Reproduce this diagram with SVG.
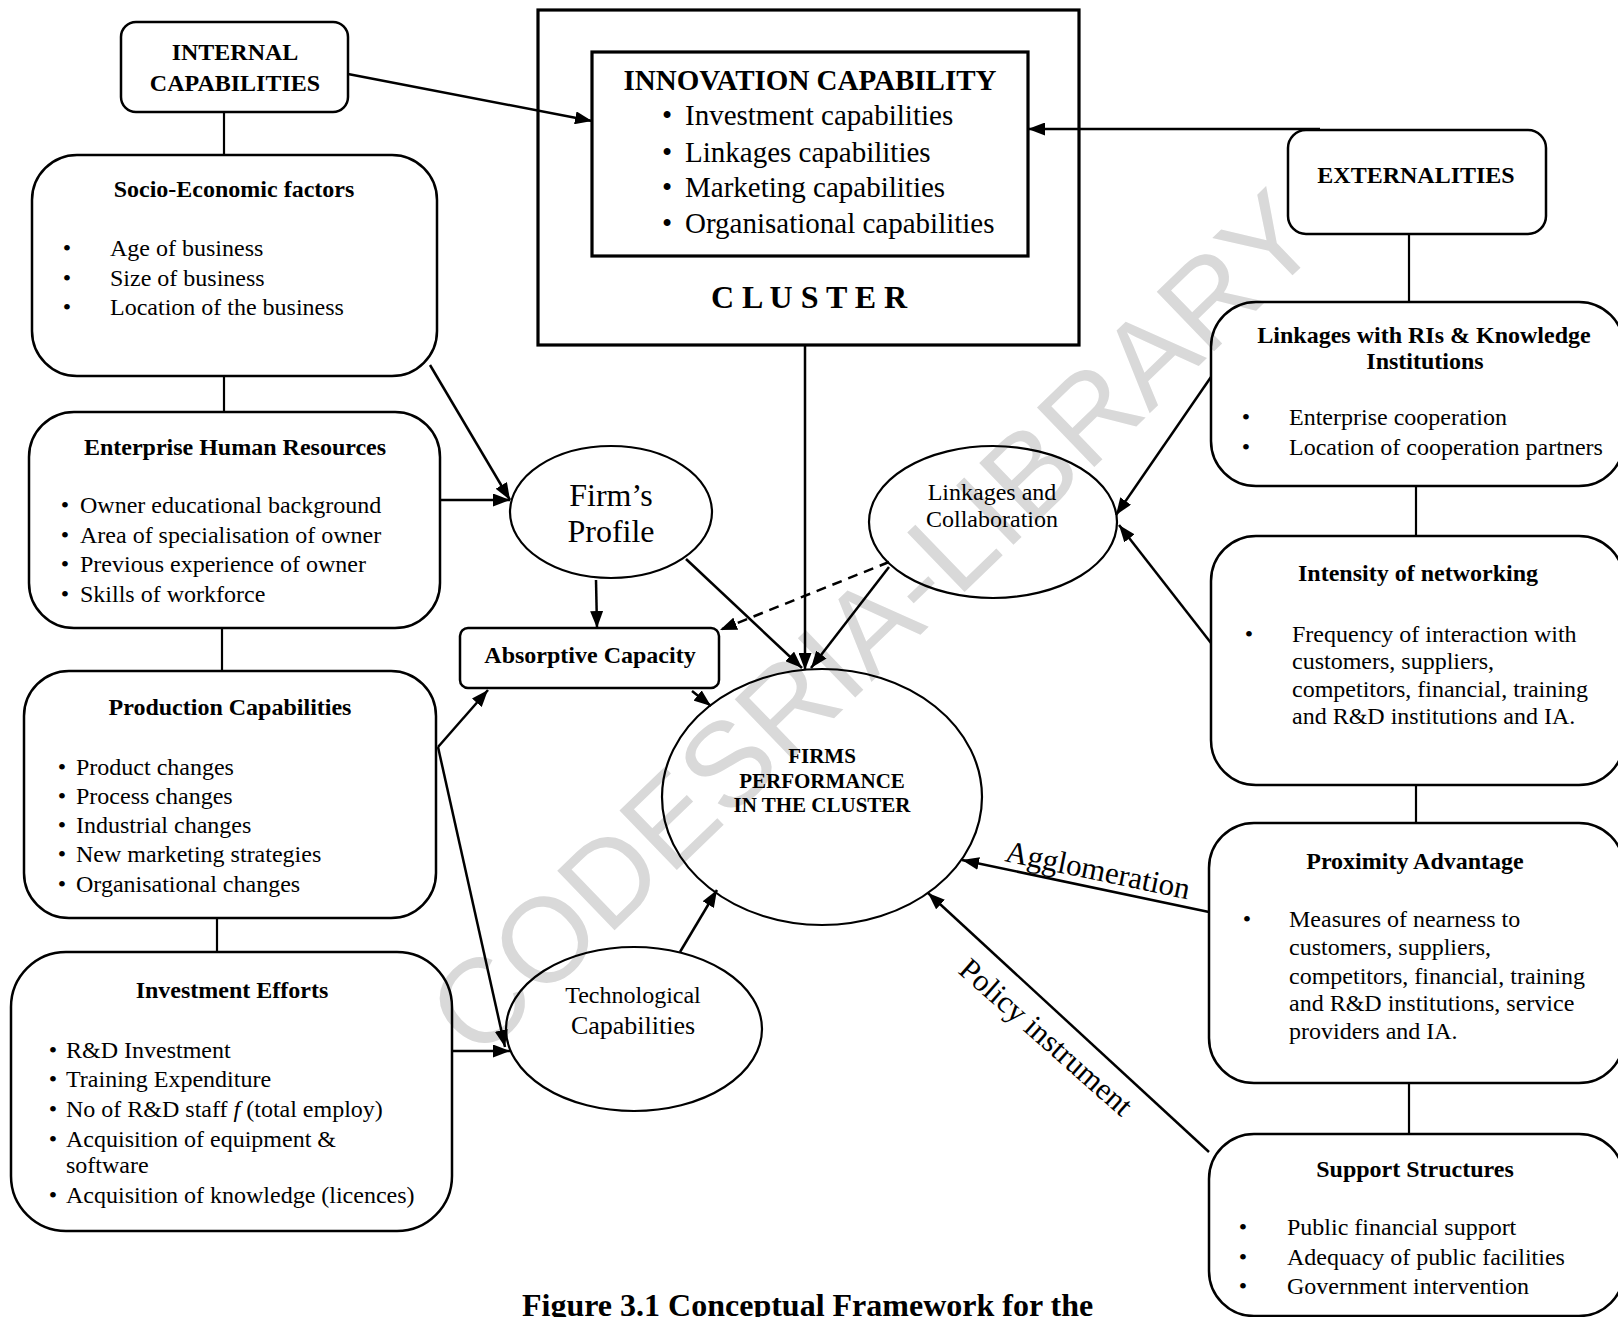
<svg xmlns="http://www.w3.org/2000/svg" width="1618" height="1317" viewBox="0 0 1618 1317">
<defs>
<marker id="ah" markerUnits="userSpaceOnUse" markerWidth="18" markerHeight="13" refX="17" refY="6.5" orient="auto"><path d="M0,0 L17,6.5 L0,13 z" fill="#000"/></marker>
</defs>
<style>
text{font-family:"Liberation Serif","Times New Roman",serif;fill:#000}
.t{font-size:24px;font-weight:bold;text-anchor:middle}
.b{font-size:24px}
.bl{font-size:24px;text-anchor:middle}
.box{fill:none;stroke:#000;stroke-width:2.5}
.thick{fill:none;stroke:#000;stroke-width:3.2}
.ell{fill:none;stroke:#000;stroke-width:2.2}
.ln{fill:none;stroke:#000;stroke-width:2.2}
.ar{fill:none;stroke:#000;stroke-width:2.5;marker-end:url(#ah)}
.wm{font-family:"Liberation Sans",Arial,sans-serif;font-size:120px;fill:#d9d9d9}
</style>
<rect width="1618" height="1317" fill="#fff"/>
<text class="wm" transform="translate(478,1062) rotate(-44)">CODESRIA-LIBRARY</text>

<g id="internal">
<rect class="box" x="121" y="22" width="227" height="90" rx="15"/>
<text class="t" x="235" y="60">INTERNAL</text>
<text class="t" x="235" y="91">CAPABILITIES</text>
</g>

<g id="socio">
<rect class="box" x="32" y="155" width="405" height="221" rx="45"/>
<text class="t" x="234" y="197">Socio-Economic factors</text>
<text class="bl" x="67" y="256">•</text><text class="b" x="110" y="256">Age of business</text>
<text class="bl" x="67" y="286">•</text><text class="b" x="110" y="286">Size of business</text>
<text class="bl" x="67" y="315">•</text><text class="b" x="110" y="315">Location of the business</text>
</g>

<g id="human">
<rect class="box" x="29" y="412" width="411" height="216" rx="45"/>
<text class="t" x="235" y="455">Enterprise Human Resources</text>
<text class="bl" x="65" y="513">•</text><text class="b" x="80" y="513">Owner educational background</text>
<text class="bl" x="65" y="543">•</text><text class="b" x="80" y="543">Area of specialisation of owner</text>
<text class="bl" x="65" y="572">•</text><text class="b" x="80" y="572">Previous experience of owner</text>
<text class="bl" x="65" y="602">•</text><text class="b" x="80" y="602">Skills of workforce</text>
</g>

<g id="production">
<rect class="box" x="24" y="671" width="412" height="247" rx="45"/>
<text class="t" x="230" y="715">Production Capabilities</text>
<text class="bl" x="62" y="775">•</text><text class="b" x="76" y="775">Product changes</text>
<text class="bl" x="62" y="804">•</text><text class="b" x="76" y="804">Process changes</text>
<text class="bl" x="62" y="833">•</text><text class="b" x="76" y="833">Industrial changes</text>
<text class="bl" x="62" y="862">•</text><text class="b" x="76" y="862">New marketing strategies</text>
<text class="bl" x="62" y="892">•</text><text class="b" x="76" y="892">Organisational changes</text>
</g>

<g id="investment">
<rect class="box" x="11" y="952" width="441" height="279" rx="55"/>
<text class="t" x="232" y="998">Investment Efforts</text>
<text class="bl" x="53" y="1058">•</text><text class="b" x="66" y="1058">R&amp;D Investment</text>
<text class="bl" x="53" y="1087">•</text><text class="b" x="66" y="1087">Training Expenditure</text>
<text class="bl" x="53" y="1117">•</text><text class="b" x="66" y="1117">No of R&amp;D staff <tspan font-style="italic">f</tspan> (total employ)</text>
<text class="bl" x="53" y="1147">•</text><text class="b" x="66" y="1147">Acquisition of equipment &amp;</text>
<text class="b" x="66" y="1173">software</text>
<text class="bl" x="53" y="1203">•</text><text class="b" x="66" y="1203">Acquisition of knowledge (licences)</text>
</g>

<g id="cluster">
<rect class="thick" x="538" y="10" width="541" height="335"/>
<text x="809" y="308" font-size="32" font-weight="bold" text-anchor="middle">C L U S T E R</text>
</g>

<g id="innovation">
<rect class="thick" x="592" y="52" width="436" height="204"/>
<text x="810" y="90" font-size="29" font-weight="bold" text-anchor="middle">INNOVATION CAPABILITY</text>
<text x="667" y="125" font-size="29" text-anchor="middle">•</text><text x="685" y="125" font-size="29">Investment capabilities</text>
<text x="667" y="162" font-size="29" text-anchor="middle">•</text><text x="685" y="162" font-size="29">Linkages capabilities</text>
<text x="667" y="197" font-size="29" text-anchor="middle">•</text><text x="685" y="197" font-size="29">Marketing capabilities</text>
<text x="667" y="233" font-size="29" text-anchor="middle">•</text><text x="685" y="233" font-size="29">Organisational capabilities</text>
</g>

<g id="externalities">
<rect class="box" x="1288" y="130" width="258" height="104" rx="18"/>
<text class="t" x="1416" y="183">EXTERNALITIES</text>
</g>

<g id="linkages-ri">
<rect class="box" x="1211" y="302" width="413" height="184" rx="45"/>
<text class="t" x="1424" y="343">Linkages with RIs &amp; Knowledge</text>
<text class="t" x="1425" y="369">Institutions</text>
<text class="bl" x="1246" y="425">•</text><text class="b" x="1289" y="425">Enterprise cooperation</text>
<text class="bl" x="1246" y="455">•</text><text class="b" x="1289" y="455">Location of cooperation partners</text>
</g>

<g id="intensity">
<rect class="box" x="1211" y="536" width="413" height="249" rx="45"/>
<text class="t" x="1418" y="581">Intensity of networking</text>
<text class="bl" x="1249" y="642">•</text>
<text class="b" x="1292" y="642">Frequency of interaction with</text>
<text class="b" x="1292" y="669">customers, suppliers,</text>
<text class="b" x="1292" y="697">competitors, financial, training</text>
<text class="b" x="1292" y="724">and R&amp;D institutions and IA.</text>
</g>

<g id="proximity">
<rect class="box" x="1209" y="823" width="415" height="260" rx="45"/>
<text class="t" x="1415" y="869">Proximity Advantage</text>
<text class="bl" x="1247" y="927">•</text>
<text class="b" x="1289" y="927">Measures of nearness to</text>
<text class="b" x="1289" y="955">customers, suppliers,</text>
<text class="b" x="1289" y="984">competitors, financial, training</text>
<text class="b" x="1289" y="1011">and R&amp;D institutions, service</text>
<text class="b" x="1289" y="1039">providers and IA.</text>
</g>

<g id="support">
<rect class="box" x="1209" y="1134" width="415" height="182" rx="45"/>
<text class="t" x="1415" y="1177">Support Structures</text>
<text class="bl" x="1243" y="1235">•</text><text class="b" x="1287" y="1235">Public financial support</text>
<text class="bl" x="1243" y="1265">•</text><text class="b" x="1287" y="1265">Adequacy of public facilities</text>
<text class="bl" x="1243" y="1294">•</text><text class="b" x="1287" y="1294">Government intervention</text>
</g>

<g id="firms-profile">
<ellipse class="ell" cx="611" cy="512" rx="101" ry="66"/>
<text x="611" y="506" font-size="32" text-anchor="middle">Firm’s</text>
<text x="611" y="542" font-size="32" text-anchor="middle">Profile</text>
</g>

<g id="absorptive">
<rect class="box" x="460" y="628" width="259" height="60" rx="8"/>
<text class="t" x="590" y="663">Absorptive Capacity</text>
</g>

<g id="linkages-collab">
<ellipse class="ell" cx="993" cy="522" rx="124" ry="76"/>
<text x="992" y="500" font-size="24" text-anchor="middle">Linkages and</text>
<text x="992" y="527" font-size="24" text-anchor="middle">Collaboration</text>
</g>

<g id="performance">
<ellipse class="ell" cx="822" cy="797" rx="160" ry="128"/>
<text x="822" y="763" font-size="21" font-weight="bold" text-anchor="middle">FIRMS</text>
<text x="822" y="788" font-size="21" font-weight="bold" text-anchor="middle">PERFORMANCE</text>
<text x="822" y="812" font-size="21" font-weight="bold" text-anchor="middle">IN THE CLUSTER</text>
</g>

<g id="technological">
<ellipse class="ell" cx="634" cy="1029" rx="128" ry="82"/>
<text x="633" y="1003" font-size="24" text-anchor="middle">Technological</text>
<text x="633" y="1034" font-size="26" text-anchor="middle">Capabilities</text>
</g>

<g id="connectors">
<line class="ln" x1="224" y1="112" x2="224" y2="155"/>
<line class="ln" x1="224" y1="376" x2="224" y2="412"/>
<line class="ln" x1="222" y1="628" x2="222" y2="671"/>
<line class="ln" x1="217" y1="918" x2="217" y2="952"/>
<line class="ln" x1="1409" y1="234" x2="1409" y2="302"/>
<line class="ln" x1="1416" y1="486" x2="1416" y2="536"/>
<line class="ln" x1="1416" y1="785" x2="1416" y2="823"/>
<line class="ln" x1="1409" y1="1083" x2="1409" y2="1134"/>

<line class="ar" x1="348" y1="74" x2="592" y2="121"/>
<line class="ar" x1="1320" y1="129" x2="1028" y2="129"/>
<line class="ar" x1="430" y1="365" x2="510" y2="500"/>
<line class="ar" x1="440" y1="500" x2="510" y2="500"/>
<line class="ar" x1="596" y1="580" x2="597" y2="628"/>
<line class="ar" x1="686" y1="559" x2="802" y2="668"/>
<line class="ar" x1="805" y1="345" x2="805" y2="670"/>
<line class="ar" x1="889" y1="567" x2="811" y2="668"/>
<line class="ar" x1="889" y1="562" x2="720" y2="630" stroke-dasharray="10,7"/>
<line class="ar" x1="692" y1="691" x2="711" y2="706"/>
<line class="ar" x1="438" y1="747" x2="488" y2="690"/>
<line class="ar" x1="438" y1="747" x2="505" y2="1047"/>
<line class="ar" x1="452" y1="1051" x2="510" y2="1051"/>
<line class="ar" x1="680" y1="952" x2="717" y2="890"/>
<line class="ar" x1="1211" y1="377" x2="1116" y2="515"/>
<line class="ar" x1="1211" y1="643" x2="1119" y2="525"/>
<line class="ar" x1="1209" y1="912" x2="962" y2="860"/>
<line class="ar" x1="1209" y1="1152" x2="928" y2="893"/>
<text font-size="31" transform="translate(1004,861) rotate(11.8)">Agglomeration</text>
<text font-size="31" transform="translate(957,972) rotate(41.5)">Policy instrument</text>
</g>

<text x="522" y="1316" font-size="32" font-weight="bold">Figure 3.1 Conceptual Framework for the</text>
</svg>
